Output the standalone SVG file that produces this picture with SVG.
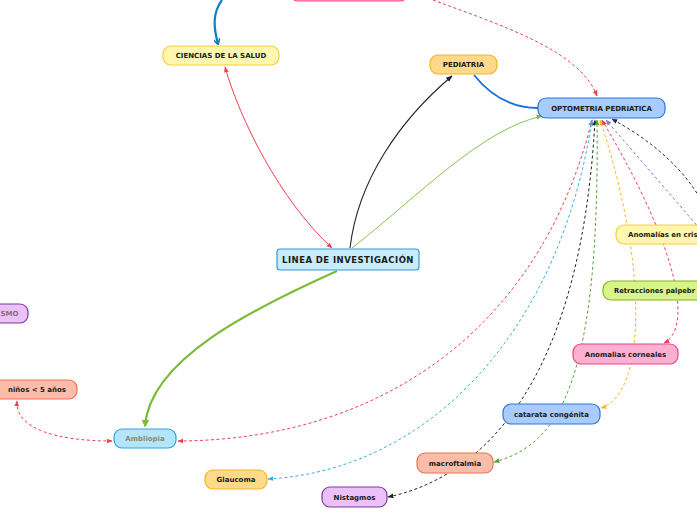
<svg xmlns="http://www.w3.org/2000/svg" width="697" height="520" viewBox="0 0 697 520">
<defs>
<style>
.n rect{stroke-width:1.2}
.t{font-family:"DejaVu Sans",Verdana,sans-serif;font-weight:bold;font-size:7px;fill:#1a1a1a;text-anchor:middle}
.g{fill:#8a8a6a}
.c path{fill:none}
.d{stroke-dasharray:3,2.5;stroke-width:1}
</style>
<marker id="aRed" viewBox="0 0 10 10" refX="9" refY="5" markerWidth="6" markerHeight="6" orient="auto-start-reverse"><path d="M0,1 L10,5 L0,9 z" fill="#f04050"/></marker>
<marker id="aBlk" viewBox="0 0 10 10" refX="9" refY="5" markerWidth="6" markerHeight="6" orient="auto-start-reverse"><path d="M0,1 L10,5 L0,9 z" fill="#222"/></marker>
<marker id="aGrn" viewBox="0 0 10 10" refX="9" refY="5" markerWidth="6" markerHeight="6" orient="auto-start-reverse"><path d="M0,1 L10,5 L0,9 z" fill="#7cbb3a"/></marker>
<marker id="aGrnD" viewBox="0 0 10 10" refX="9" refY="5" markerWidth="6" markerHeight="6" orient="auto-start-reverse"><path d="M0,1 L10,5 L0,9 z" fill="#5aa040"/></marker>
<marker id="aGrnT" viewBox="0 0 10 10" refX="8" refY="5" markerWidth="3.5" markerHeight="3.5" orient="auto"><path d="M0,0 L10,5 L0,10 z" fill="#7cbb3a"/></marker>
<marker id="aBlu" viewBox="0 0 10 10" refX="8" refY="5" markerWidth="3" markerHeight="3" orient="auto"><path d="M0,0 L9,5 L0,10" fill="none" stroke="#0d7fc2" stroke-width="2.5"/></marker>
<marker id="aCyan" viewBox="0 0 10 10" refX="9" refY="5" markerWidth="6" markerHeight="6" orient="auto-start-reverse"><path d="M0,1 L10,5 L0,9 z" fill="#3ab0e0"/></marker>
<marker id="aYel" viewBox="0 0 10 10" refX="9" refY="5" markerWidth="6" markerHeight="6" orient="auto-start-reverse"><path d="M0,1 L10,5 L0,9 z" fill="#f8b820"/></marker>
<marker id="aPur" viewBox="0 0 10 10" refX="9" refY="5" markerWidth="6" markerHeight="6" orient="auto-start-reverse"><path d="M0,1 L10,5 L0,9 z" fill="#8a80c8"/></marker>
<marker id="aNav" viewBox="0 0 10 10" refX="9" refY="5" markerWidth="6" markerHeight="6" orient="auto-start-reverse"><path d="M0,1 L10,5 L0,9 z" fill="#203050"/></marker>
</defs>
<rect width="697" height="520" fill="#ffffff"/>
<g id="connectors" class="c">
<path d="M222 0 C213 12,213 26,218 44" stroke="#0d7fc2" stroke-width="2.2" marker-end="url(#aBlu)"/>
<path d="M474 75 C490 95,510 108,538 108" stroke="#1a6fd8" stroke-width="1.8"/>
<path d="M350 248 C358 180,400 120,452 76" stroke="#222" stroke-width="1.1" marker-end="url(#aBlk)"/>
<path d="M352 248 C420 195,480 130,542 116" stroke="#8bc34a" stroke-width="1" marker-end="url(#aGrn)"/>
<path d="M332 248 C280 200,240 120,225 67" stroke="#f04050" stroke-width="1" marker-start="url(#aRed)" marker-end="url(#aRed)"/>
<path d="M337 271 C250 310,150 360,145 426" stroke="#7cbb3a" stroke-width="2.2" marker-end="url(#aGrnT)"/>
<path class="d" d="M433 0 C500 25,580 50,597 96" stroke="#f04050" marker-end="url(#aRed)"/>
<path class="d" d="M17 401 C15 430,60 441,112 441" stroke="#f04050" marker-start="url(#aRed)" marker-end="url(#aRed)"/>
<path class="d" d="M178 441 C380 440,540 330,592 120" stroke="#f04050" marker-start="url(#aRed)" marker-end="url(#aRed)"/>
<path class="d" d="M268 479 C430 470,560 330,592 120" stroke="#3ab0e0" marker-start="url(#aCyan)" marker-end="url(#aCyan)"/>
<path class="d" d="M388 497 C470 480,580 400,595 120" stroke="#222" marker-start="url(#aBlk)" marker-end="url(#aBlk)"/>
<path class="d" d="M494 462 C560 445,600 380,597 120" stroke="#5aa040" marker-start="url(#aGrnD)" marker-end="url(#aGrnD)"/>
<path class="d" d="M601 408 C645 395,650 270,600 120" stroke="#f8b820" marker-start="url(#aYel)" marker-end="url(#aYel)"/>
<path class="d" d="M664 343 C690 330,685 260,602 120" stroke="#f04050" marker-start="url(#aRed)" marker-end="url(#aRed)"/>
<path class="d" d="M700 229 L606 120" stroke="#8a80c8" marker-end="url(#aPur)"/>
<path class="d" d="M700 198 C680 165,650 140,612 119" stroke="#203050" marker-end="url(#aNav)"/>
</g>
<g id="n-top" class="n"><rect x="290" y="-20" width="118" height="21" rx="8" fill="#ff9ec8" stroke="#ff4f9a" stroke-width="1.5"/></g>
<g id="n-ciencias" class="n"><rect x="163" y="46" width="116" height="19" rx="8" fill="#fff6b0" stroke="#f0d040"/><text class="t" x="221" y="58">CIENCIAS DE LA SALUD</text></g>
<g id="n-pediatria" class="n"><rect x="430" y="55" width="67" height="19" rx="8" fill="#ffd98a" stroke="#f5b622"/><text class="t" x="463.5" y="67">PEDIATRIA</text></g>
<g id="n-opto" class="n"><rect x="538" y="98" width="127" height="20" rx="8" fill="#a8ccff" stroke="#2a78d8"/><text class="t" x="601.5" y="110.5">OPTOMETRIA PEDRIATICA</text></g>
<g id="n-linea" class="n"><rect x="277" y="249" width="142" height="21" rx="3" fill="#c8ecfa" stroke="#3a9ad0"/><text class="t" x="348" y="262.8" style="font-size:8.5px;letter-spacing:0.45px">LINEA DE INVESTIGACIÓN</text></g>
<g id="n-cristalino" class="n"><rect x="616" y="225" width="100" height="19" rx="8" fill="#fff6b0" stroke="#f0d040"/><text class="t" x="628" y="237" style="text-anchor:start">Anomalías en cris</text></g>
<g id="n-retracciones" class="n"><rect x="603" y="281" width="110" height="19" rx="8" fill="#d8f58a" stroke="#8ab020"/><text class="t" x="614" y="293" style="text-anchor:start" textLength="81" lengthAdjust="spacingAndGlyphs">Retracciones palpebr</text></g>
<g id="n-corneales" class="n"><rect x="573" y="344" width="105" height="20" rx="8" fill="#ffb0d0" stroke="#f0408a"/><text class="t" x="625.5" y="356.5">Anomalias corneales</text></g>
<g id="n-catarata" class="n"><rect x="503" y="404" width="97" height="20" rx="8" fill="#a8ccff" stroke="#2a78d8"/><text class="t" x="551.5" y="416.5">catarata congénita</text></g>
<g id="n-macro" class="n"><rect x="417" y="453" width="76" height="20" rx="8" fill="#fbbcaa" stroke="#f07050"/><text class="t" x="455" y="465.5">macroftalmia</text></g>
<g id="n-nistagmos" class="n"><rect x="322" y="487" width="65" height="20" rx="8" fill="#ecc0f8" stroke="#7a3a9a"/><text class="t" x="354.5" y="499.5">Nistagmos</text></g>
<g id="n-glaucoma" class="n"><rect x="205" y="470" width="62" height="19" rx="8" fill="#ffd98a" stroke="#f5b622"/><text class="t" x="236" y="482">Glaucoma</text></g>
<g id="n-ambliopia" class="n"><rect x="114" y="429" width="62" height="19" rx="8" fill="#b3e5fc" stroke="#2aa8e0"/><text class="t g" x="145" y="441">Ambliopia</text></g>
<g id="n-ninos" class="n"><rect x="-20" y="380" width="97" height="19" rx="8" fill="#fbbcaa" stroke="#f07050"/><text class="t" x="37" y="392">niños &lt; 5 años</text></g>
<g id="n-smo" class="n"><rect x="-40" y="304" width="68" height="19" rx="8" fill="#ecc0f8" stroke="#7a3a9a"/><text class="t" x="0.5" y="316" style="text-anchor:start;fill:#8a7070">SMO</text></g>
</svg>
